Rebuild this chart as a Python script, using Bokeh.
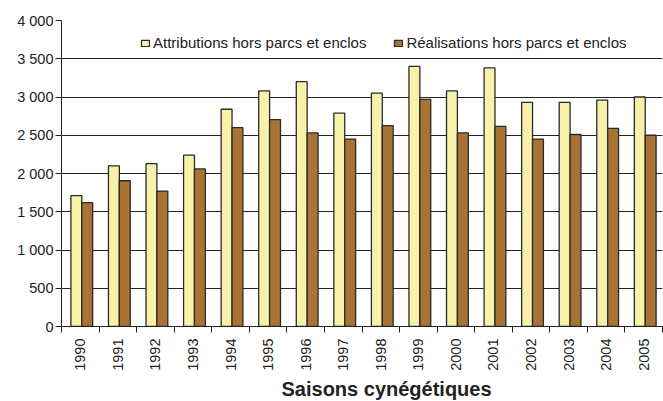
from math import pi
from bokeh.plotting import figure
from bokeh.models import ColumnDataSource, FixedTicker, Range1d, Legend, LegendItem, Title
from bokeh.transform import dodge
from bokeh.embed import file_html
from bokeh.resources import INLINE

years = [1990, 1991, 1992, 1993, 1994, 1995, 1996, 1997, 1998, 1999,
         2000, 2001, 2002, 2003, 2004, 2005]
attributions = [1710, 2100, 2130, 2240, 2840, 3080, 3200, 2790, 3050, 3400,
                3080, 3380, 2930, 2930, 2960, 3000]
realisations = [1620, 1905, 1770, 2060, 2600, 2705, 2530, 2450, 2625, 2970,
                2530, 2615, 2450, 2510, 2590, 2500]
y_ticks = [0, 500, 1000, 1500, 2000, 2500, 3000, 3500, 4000]
label_a = "Attributions hors parcs et enclos"
label_r = "Réalisations hors parcs et enclos"
x_title = "Saisons cynégétiques"

FONT = "Liberation Sans"
TXT = "#222222"
LINE = "#222222"

n = len(years)
pos = [i for i in range(n)]
src = ColumnDataSource(dict(x=pos, a=attributions, r=realisations))

p = figure(width=663, height=401, output_backend="svg", toolbar_location=None,
           x_range=Range1d(0, n), y_range=Range1d(0, 4000),
           min_border_left=61, min_border_right=1, min_border_top=20,
           min_border_bottom=74)
p.outline_line_color = None
p.background_fill_color = "white"

ra = p.vbar(x=dodge("x", 0.395, range=p.x_range), top="a", width=0.29, source=src,
            fill_color="#F8F1AA", line_color="#2a2a2a", line_width=1.3)
rr = p.vbar(x=dodge("x", 0.685, range=p.x_range), top="r", width=0.29, source=src,
            fill_color="#A87435", line_color="#2a2a2a", line_width=1.3)

# y axis
p.yaxis.ticker = FixedTicker(ticks=y_ticks)
p.yaxis.major_label_overrides = {t: (f"{t:,}".replace(",", " ")) for t in y_ticks}
p.yaxis.major_tick_out = 6
p.yaxis.major_tick_in = 0
p.yaxis.minor_tick_line_color = None
p.yaxis.axis_line_color = LINE
p.yaxis.major_tick_line_color = LINE
p.yaxis.major_label_text_font = FONT
p.yaxis.major_label_text_font_size = "14.5px"
p.yaxis.major_label_text_color = TXT
p.yaxis.major_label_standoff = 2

# x axis: labels at centers, ticks at category boundaries (minor ticks)
centers = [i + 0.5 for i in range(n)]
bounds = [i for i in range(n + 1)]
p.xaxis.ticker = FixedTicker(ticks=centers, minor_ticks=bounds)
p.xaxis.major_label_overrides = {c: str(y) for c, y in zip(centers, years)}
p.xaxis.major_label_orientation = pi / 2
p.xaxis.major_tick_out = 0
p.xaxis.major_tick_in = 0
p.xaxis.minor_tick_out = 6
p.xaxis.minor_tick_in = 0
p.xaxis.minor_tick_line_color = LINE
p.xaxis.axis_line_color = LINE
p.xaxis.major_label_text_font = FONT
p.xaxis.major_label_text_font_size = "14.5px"
p.xaxis.major_label_text_color = TXT
p.xaxis.major_label_standoff = 6

title = Title(text=x_title, align="left", offset=220, standoff=4,
              text_font=FONT, text_font_style="bold", text_font_size="20px",
              text_color=TXT)
p.add_layout(title, "below")

p.xgrid.grid_line_color = None
p.ygrid.ticker = FixedTicker(ticks=y_ticks)
p.ygrid.grid_line_color = LINE
p.ygrid.grid_line_width = 1

legend = Legend(items=[LegendItem(label=label_a, renderers=[ra]),
                       LegendItem(label=label_r, renderers=[rr])],
                orientation="horizontal", location=(79, 275),
                glyph_width=10, glyph_height=8, label_height=16,
                padding=2, spacing=27, label_standoff=3, margin=0,
                border_line_color=None, background_fill_alpha=0,
                label_text_font=FONT, label_text_font_size="15px",
                label_text_color=TXT)
p.add_layout(legend)

open("out.html", "w").write(file_html(p, INLINE))
